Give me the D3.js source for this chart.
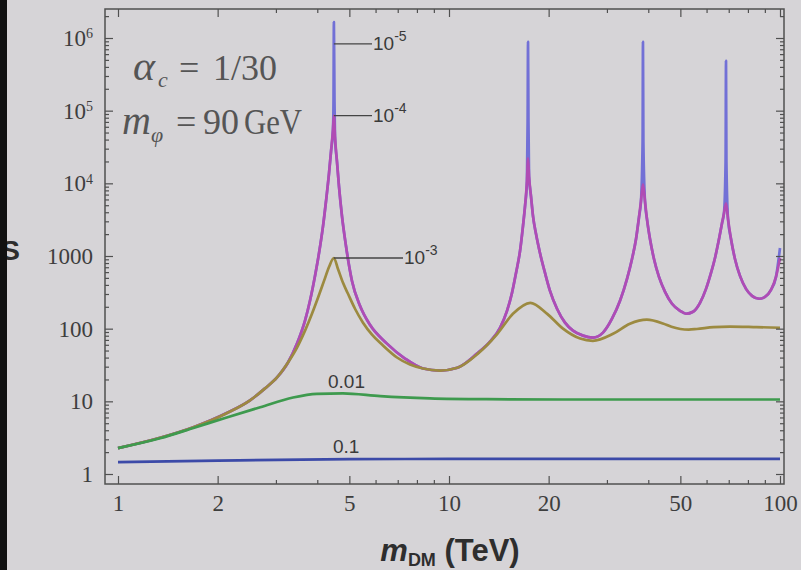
<!DOCTYPE html>
<html>
<head>
<meta charset="utf-8">
<script src="https://cdn.jsdelivr.net/npm/d3@7"></script>
<style>
body { margin: 0; background: #d6d4d7; }
svg { display: block; }
</style>
</head>
<body>
<div id="chart"></div>
<script>
// Sommerfeld factor S vs m_DM (TeV), one curve per velocity
var massV1 = [1, 2, 5, 10, 20, 50, 100];
var sV1 = [1.46, 1.53, 1.6, 1.61, 1.61, 1.62, 1.62];

var massV2 = [1, 1.34, 1.69, 2.13, 2.69, 3.38, 3.99, 4.78, 6.2, 8.76, 13, 22, 50, 100];
var sV2 = [2.27, 3.1, 4.3, 6.0, 8.3, 11.3, 12.7, 12.9, 11.8, 11.0, 10.7, 10.6, 10.6, 10.6];

var massV3 = [1, 1.34, 1.69, 2.13, 2.505, 2.781, 3.023, 3.263, 3.474, 3.673, 3.855, 4.02, 4.192, 4.34, 4.49, 4.62, 4.784, 4.953, 5.2, 5.498, 5.853, 6.275, 6.965, 7.624, 8.348, 9.393, 10.6, 12.2, 14, 15.6, 17.6, 19.8, 22.1, 24.9, 27.2, 31.3, 35.2, 39.6, 44.3, 47, 50, 53, 56.1, 63, 70.6, 85, 100];
var sV3 = [2.27, 3.15, 4.4, 6.85, 10.32, 15.07, 21.3, 34.2, 54.9, 93.9, 160.5, 266, 454, 707, 939, 663, 427, 302, 188, 121, 82.8, 60.4, 40.1, 32.1, 28.3, 26.5, 29, 45, 85, 160, 227, 160, 100, 73, 68, 85, 117, 133, 118, 106, 99, 97, 99, 105, 107, 105, 103];

var massV4 = [1, 1.34, 1.69, 2.13, 2.505, 2.781, 3.023, 3.263, 3.474, 3.673, 3.802, 3.937, 4.049, 4.163, 4.25, 4.34, 4.401, 4.462, 4.49, 4.524, 4.587, 4.652, 4.75, 4.884, 5.092, 5.384, 5.771, 6.495, 7.362, 8.348, 9.393, 10.6,
    12.15, 13.3, 14.26, 14.97, 15.5, 15.94, 16.39, 16.73, 16.97, 17.2, 17.33, 17.45, 17.69, 17.94, 18.32, 18.83, 19.5, 20.19, 21.2, 22.41, 23.69, 25.4, 27.23,
    29.19, 31.08, 32.86, 34.5, 35.72, 36.73, 37.5, 38.02, 38.55, 39.09, 39.64, 40.48, 41.62, 43.09, 44.95, 47.18, 49.89, 52.0,
    54.61, 57.32, 59.77, 61.88, 63.62, 65.42, 66.8, 67.73, 68.69, 69.66, 71.12, 73.11, 75.71, 78.94, 82.3, 86.45, 90.09, 93.93, 97.25, 100];
var sV4 = [2.27, 3.15, 4.4, 6.9, 10.32, 15.07, 21.3, 34.2, 62.3, 128.7, 242, 532, 1099, 2576, 5667, 13700, 27400, 54900, 85500, 44000, 20000, 9100, 3530, 1371, 454, 207, 113, 62.3, 38.8, 28.3, 26.5, 29,
    45.4, 66.4, 103, 176, 311, 585, 1171, 2576, 4841, 10650, 22000, 12470, 6635, 3532, 2001, 1099, 585, 331, 188, 121, 93.9, 80.2, 75.3,
    88.2, 137, 242, 484, 910, 1710, 3421, 5667, 9690, 5667, 3212, 1710, 910, 516, 321, 220, 176, 160.5,
    171, 227, 353, 585, 939, 1710, 2831, 3882, 5322, 3212, 1710, 910, 532, 353, 283, 258, 274, 342, 516, 939];

var massV5 = [1, 1.34, 1.69, 2.13, 2.505, 2.781, 3.023, 3.263, 3.474, 3.673, 3.802, 3.937, 4.049, 4.163, 4.25, 4.34, 4.401, 4.462, 4.478, 4.49, 4.509, 4.524, 4.587, 4.652, 4.75, 4.884, 5.092, 5.384, 5.771, 6.495, 7.362, 8.348, 9.393, 10.6,
    12.15, 13.3, 14.26, 14.97, 15.5, 15.94, 16.39, 16.73, 16.97, 17.2, 17.28, 17.33, 17.38, 17.45, 17.69, 17.94, 18.32, 18.83, 19.5, 20.19, 21.2, 22.41, 23.69, 25.4, 27.23,
    29.19, 31.08, 32.86, 34.5, 35.72, 36.73, 37.5, 38.02, 38.45, 38.55, 38.66, 39.09, 39.64, 40.48, 41.62, 43.09, 44.95, 47.18, 49.89, 52.0,
    54.61, 57.32, 59.77, 61.88, 63.62, 65.42, 66.8, 67.73, 68.49, 68.69, 68.88, 69.66, 71.12, 73.11, 75.71, 78.94, 82.3, 86.45, 90.09, 93.93, 97.25, 100];
var sV5 = [2.27, 3.15, 4.4, 6.9, 10.32, 15.07, 21.3, 34.2, 62.3, 128.7, 242, 532, 1099, 2576, 5667, 13700, 27400, 54900, 133000, 1660000, 133000, 44000, 20000, 9100, 3530, 1371, 454, 207, 113, 62.3, 38.8, 28.3, 26.5, 29,
    45.4, 66.4, 103, 176, 311, 585, 1171, 2576, 4841, 10650, 70700, 882000, 70700, 12470, 6635, 3532, 2001, 1099, 585, 331, 188, 121, 93.9, 80.2, 75.3,
    88.2, 137, 242, 484, 910, 1710, 3421, 5667, 37600, 882000, 37600, 5667, 3212, 1710, 910, 516, 321, 220, 176, 160.5,
    171, 227, 353, 585, 939, 1710, 2831, 3882, 20000, 484000, 20000, 3212, 1710, 910, 532, 353, 283, 258, 274, 342, 516, 1287];

var xMajor = [1, 2, 5, 10, 20, 50, 100];
var xMinor = [3, 4, 6, 7, 8, 9, 30, 40, 60, 70, 80, 90];
var yMajor = [1, 10, 100, 1000, 1e4, 1e5, 1e6];
var yTickText = ["1", "10", "100", "1000", "10", "10", "10"];
var yTickExp = ["", "", "", "", "4", "5", "6"];

var W = 801, H = 570;
var frame = {left: 105, right: 784, top: 9, bottom: 484};

var svg = d3.select("#chart").append("svg")
    .attr("width", W)
    .attr("height", H);

svg.append("rect").attr("width", W).attr("height", H).attr("fill", "#d6d4d7");

var x = d3.scaleLog().domain([1, 100]).range([118, 780]);
var y = d3.scaleLog().domain([1, 1e6]).range([474, 38]);

var yMinor = [];
yMajor.forEach(function(d) {
    for (var j = 2; j <= 9; j++) if (d * j < 2.3e6) yMinor.push(d * j);
});

svg.append("clipPath").attr("id", "clip")
    .append("rect")
    .attr("x", frame.left).attr("y", frame.top)
    .attr("width", frame.right - frame.left).attr("height", frame.bottom - frame.top);

var line = d3.line()
    .x(function(d) { return x(d[0]); })
    .y(function(d) { return y(d[1]); })
    .curve(d3.curveMonotoneX);

var curves = [
    {m: massV5, s: sV5, color: "#7270d6"},
    {m: massV4, s: sV4, color: "#b04cb4"},
    {m: massV3, s: sV3, color: "#9c8a40"},
    {m: massV2, s: sV2, color: "#3e9a4e"},
    {m: massV1, s: sV1, color: "#3c4aa8"}
];

var plot = svg.append("g").attr("clip-path", "url(#clip)");
curves.forEach(function(c) {
    plot.append("path")
        .datum(d3.zip(c.m, c.s))
        .attr("d", line)
        .attr("fill", "none")
        .attr("stroke", c.color)
        .attr("stroke-width", 2.7)
        .attr("stroke-linejoin", "round");
});

// axes, Mathematica style: ticks inside the frame on all four sides
function tidy(g) {
    g.select(".domain").remove();
    g.selectAll("line").attr("stroke", "#505050").attr("stroke-width", 1.2);
    g.attr("font-family", "Liberation Serif").attr("font-size", 23);
    g.selectAll("text").attr("fill", "#3e3e3e");
}

svg.append("g").attr("transform", "translate(0," + frame.bottom + ")")
    .call(d3.axisBottom(x).tickValues(xMajor).tickSize(-8).tickPadding(11).tickFormat(d3.format("d")))
    .call(tidy);
svg.append("g").attr("transform", "translate(0," + frame.bottom + ")")
    .call(d3.axisBottom(x).tickValues(xMinor).tickSize(-4).tickFormat(""))
    .call(tidy);
svg.append("g").attr("transform", "translate(0," + frame.top + ")")
    .call(d3.axisTop(x).tickValues(xMajor).tickSize(-8).tickFormat(""))
    .call(tidy);
svg.append("g").attr("transform", "translate(0," + frame.top + ")")
    .call(d3.axisTop(x).tickValues(xMinor).tickSize(-4).tickFormat(""))
    .call(tidy);

var yAxis = svg.append("g").attr("transform", "translate(" + frame.left + ",0)")
    .call(d3.axisLeft(y).tickValues(yMajor).tickSize(-8).tickPadding(12)
        .tickFormat(function(d, i) { return yTickText[i]; }))
    .call(tidy);
yAxis.selectAll("text").each(function(d, i) {
    if (yTickExp[i]) {
        d3.select(this).append("tspan")
            .attr("dy", "-0.55em").attr("font-size", 14)
            .text(yTickExp[i]);
    }
});
svg.append("g").attr("transform", "translate(" + frame.left + ",0)")
    .call(d3.axisLeft(y).tickValues(yMinor).tickSize(-4).tickFormat(""))
    .call(tidy);
svg.append("g").attr("transform", "translate(" + frame.right + ",0)")
    .call(d3.axisRight(y).tickValues(yMajor).tickSize(-8).tickFormat(""))
    .call(tidy);
svg.append("g").attr("transform", "translate(" + frame.right + ",0)")
    .call(d3.axisRight(y).tickValues(yMinor).tickSize(-4).tickFormat(""))
    .call(tidy);

svg.append("rect")
    .attr("x", frame.left).attr("y", frame.top)
    .attr("width", frame.right - frame.left).attr("height", frame.bottom - frame.top)
    .attr("fill", "none").attr("stroke", "#505050").attr("stroke-width", 1.5);

// parameter box
var t1 = svg.append("text").attr("y", 80)
    .attr("font-family", "Liberation Serif").attr("font-size", 36).attr("fill", "#555");
t1.append("tspan").attr("x", 133).attr("font-style", "italic").attr("font-size", 42).text("α");
t1.append("tspan").attr("x", 158).attr("font-style", "italic").attr("font-size", 22).attr("dy", 7).text("c");
t1.append("tspan").attr("x", 179).attr("dy", -7).text("=");
t1.append("tspan").attr("x", 213).text("1/30");

var t2 = svg.append("text").attr("y", 134)
    .attr("font-family", "Liberation Serif").attr("font-size", 36).attr("fill", "#555");
t2.append("tspan").attr("x", 122).attr("font-style", "italic").attr("font-size", 40).text("m");
t2.append("tspan").attr("x", 151).attr("font-style", "italic").attr("font-size", 22).attr("dy", 8).text("φ");
t2.append("tspan").attr("x", 176).attr("dy", -8).text("=");
t2.append("tspan").attr("x", 203).text("90");
t2.append("tspan").attr("x", 244).attr("textLength", 58).attr("lengthAdjust", "spacingAndGlyphs").text("GeV");

// curve labels with leader lines
var leaders = [
    {v: 8.3e5, x2: 372, exp: "-5"},
    {v: 85500, x2: 372, exp: "-4"},
    {v: 939, x2: 403, exp: "-3"}
];
leaders.forEach(function(l) {
    var yy = y(l.v);
    svg.append("line")
        .attr("x1", x(4.49)).attr("x2", l.x2)
        .attr("y1", yy).attr("y2", yy)
        .attr("stroke", "#444").attr("stroke-width", 1.3);
    var t = svg.append("text").attr("x", l.x2 + 1).attr("y", yy + 6)
        .attr("font-family", "Liberation Sans").attr("font-size", 19).attr("fill", "#3a3a3a");
    t.append("tspan").text("10");
    t.append("tspan").attr("dy", -9).attr("font-size", 14).text(l.exp);
});

svg.append("text").attr("x", 328).attr("y", 388)
    .attr("font-family", "Liberation Sans").attr("font-size", 19).attr("fill", "#3a3a3a")
    .text("0.01");
svg.append("text").attr("x", 333).attr("y", 453)
    .attr("font-family", "Liberation Sans").attr("font-size", 19).attr("fill", "#3a3a3a")
    .text("0.1");

// axis titles
var xt = svg.append("text").attr("x", 450).attr("y", 561)
    .attr("text-anchor", "middle")
    .attr("font-family", "Liberation Sans").attr("font-weight", "bold")
    .attr("font-size", 31).attr("fill", "#2e2e2e");
xt.append("tspan").attr("font-style", "italic").text("m");
xt.append("tspan").attr("font-size", 18).attr("dy", 5).text("DM");
xt.append("tspan").attr("dy", -5).text(" (TeV)");

svg.append("text").attr("x", 20).attr("y", 260)
    .attr("text-anchor", "end")
    .attr("font-family", "Liberation Sans").attr("font-weight", "bold")
    .attr("font-size", 28).attr("fill", "#2e2e2e")
    .text("S");

svg.append("rect").attr("x", 0).attr("y", 0).attr("width", 7).attr("height", H).attr("fill", "#111");
</script>
</body>
</html>
